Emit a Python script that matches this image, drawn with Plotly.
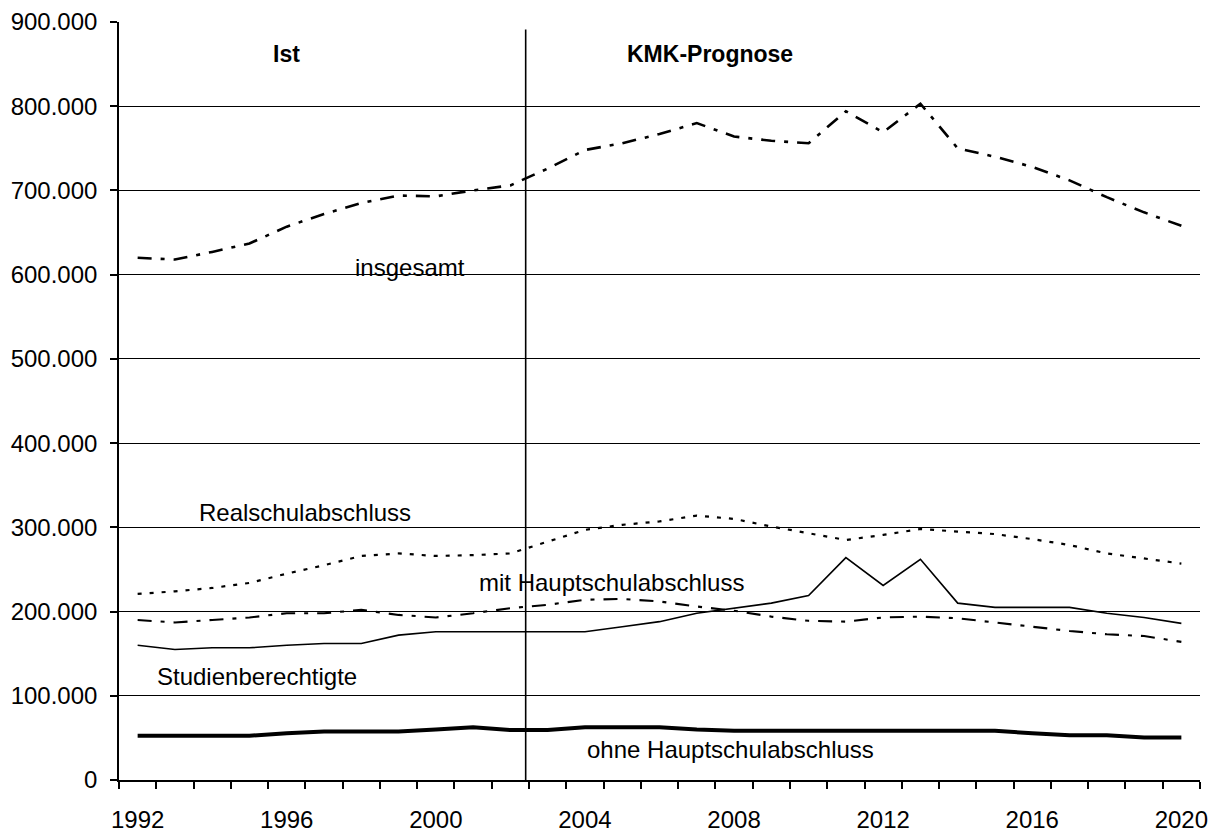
import plotly.graph_objects as go

years = list(range(1992, 2021))

insgesamt = [620000, 618000, 627000, 637000, 657000, 672000, 685000, 694000, 693000, 700000,
             706000, 726000, 748000, 756000, 767000, 780000, 764000, 759000, 756000, 794000,
             769000, 803000, 750000, 740000, 728000, 712000, 692000, 674000, 658000]
realschul = [221000, 224000, 228000, 234000, 245000, 255000, 266000, 269000, 266000, 267000,
             269000, 283000, 297000, 303000, 307000, 314000, 310000, 301000, 293000, 285000,
             291000, 298000, 295000, 292000, 286000, 279000, 269000, 263000, 257000]
mit_haupt = [190000, 187000, 190000, 193000, 198000, 198000, 202000, 196000, 193000, 198000,
             204000, 208000, 214000, 215000, 212000, 206000, 201000, 194000, 189000, 188000,
             193000, 194000, 192000, 187000, 182000, 177000, 173000, 171000, 164000]
studienber = [160000, 155000, 157000, 157000, 160000, 162000, 162000, 172000, 176000, 176000,
              176000, 176000, 176000, 182000, 188000, 198000, 204000, 210000, 219000, 264000,
              231000, 262000, 210000, 205000, 205000, 205000, 198000, 193000, 186000]
ohne_haupt = [52500, 52500, 52500, 52500, 55500, 57500, 57500, 57500, 60000, 62500,
              59300, 59300, 62500, 62500, 62500, 60000, 58600, 58600, 58600, 58600,
              58600, 58600, 58600, 58600, 55400, 53000, 53000, 50600, 50600]

label_years = [1992, 1996, 2000, 2004, 2008, 2012, 2016, 2020]
y_ticks = [0, 100000, 200000, 300000, 400000, 500000, 600000, 700000, 800000, 900000]
split_year = 2002.41

FONT = "Liberation Sans, Arial, sans-serif"

fig = go.Figure()
fig.add_trace(go.Scatter(x=years, y=insgesamt, mode="lines", name="insgesamt",
                         line=dict(color="black", width=2.6, dash="14px,9px,4px,9px")))
fig.add_trace(go.Scatter(x=years, y=realschul, mode="lines", name="Realschulabschluss",
                         line=dict(color="black", width=2.2, dash="4px,8px")))
fig.add_trace(go.Scatter(x=years, y=mit_haupt, mode="lines", name="mit Hauptschulabschluss",
                         line=dict(color="black", width=2.1, dash="14px,9px,4px,9px")))
fig.add_trace(go.Scatter(x=years, y=studienber, mode="lines", name="Studienberechtigte",
                         line=dict(color="black", width=1.6)))
fig.add_trace(go.Scatter(x=years, y=ohne_haupt, mode="lines", name="ohne Hauptschulabschluss",
                         line=dict(color="black", width=4)))

fig.add_shape(type="line", xref="x", yref="y", x0=split_year, x1=split_year,
              y0=0, y1=891000, line=dict(color="black", width=1.6))

annots = [
    ("Ist", 1996.0, 862000, True),
    ("KMK-Prognose", 2007.35, 862000, True),
    ("insgesamt", 1999.3, 609000, False),
    ("Realschulabschluss", 1996.5, 318000, False),
    ("mit Hauptschulabschluss", 2004.7, 234000, False),
    ("Studienberechtigte", 1995.2, 123000, False),
    ("ohne Hauptschulabschluss", 2007.9, 36000, False),
]
for txt, xx, yy, bold in annots:
    fig.add_annotation(x=xx, y=yy, xref="x", yref="y", showarrow=False,
                       text=f"<b>{txt}</b>" if bold else txt,
                       font=dict(family=FONT, size=23 if bold else 24, color="black"),
                       xanchor="center", yanchor="middle")

fig.update_layout(
    template="none",
    width=1220, height=833,
    margin=dict(l=119, r=20, t=22, b=53, pad=0, autoexpand=False),
    paper_bgcolor="white", plot_bgcolor="white",
    showlegend=False,
    separators=",.",
    font=dict(family=FONT, size=24, color="black"),
    xaxis=dict(
        automargin=False,
        range=[1991.5, 2020.5],
        tickmode="array", tickvals=label_years, ticktext=[str(y) for y in label_years],
        ticks="", ticklabelstandoff=17,
        showgrid=False, zeroline=False,
        showline=True, linecolor="black", linewidth=1.6,
        minor=dict(tickmode="array", tickvals=[y - 0.5 for y in years] + [2020.5],
                   ticks="outside", ticklen=7, tickwidth=1.6, tickcolor="black", showgrid=False),
        tickfont=dict(family=FONT, size=24, color="black"),
    ),
    yaxis=dict(
        automargin=False,
        range=[0, 900000],
        tickmode="array", tickvals=y_ticks, tickformat=",d",
        ticks="outside", ticklen=7, tickwidth=1.6, tickcolor="black",
        ticklabelstandoff=8,
        showgrid=True, gridcolor="black", gridwidth=1.4,
        zeroline=False,
        showline=True, linecolor="black", linewidth=1.6,
        tickfont=dict(family=FONT, size=24, color="black"),
    ),
)

fig.write_html("out.html", config={"displayModeBar": False},
               post_script="document.body.style.margin='0px';")
